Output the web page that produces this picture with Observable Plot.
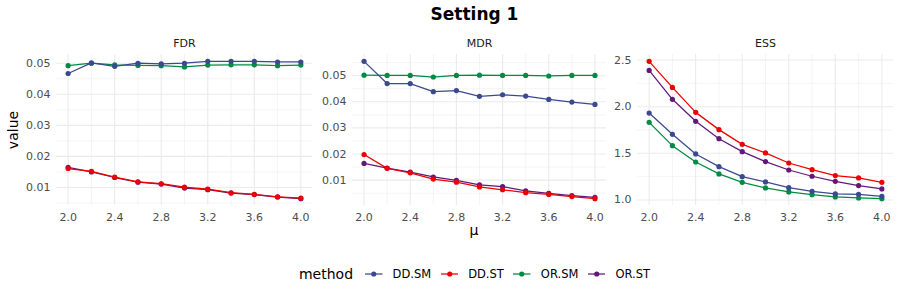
<!DOCTYPE html>
<html>
<head>
<meta charset="utf-8">
<script src="https://cdn.jsdelivr.net/npm/d3@7"></script>
<script src="https://cdn.jsdelivr.net/npm/@observablehq/plot@0.6"></script>
<style>
  html, body { margin: 0; padding: 0; background: #ffffff; }
  #chart { position: relative; width: 900px; height: 300px; font-family: "DejaVu Sans", sans-serif; overflow: hidden; }
  .abs { position: absolute; }
  #title { left: 56px; width: 837px; top: 4px; height: 20px; line-height: 20px; text-align: center; font-weight: bold; font-size: 17px; color: #000; }
  #ylab { left: 12.5px; top: 129.5px; transform: translate(-50%, -50%) rotate(-90deg); font-size: 14px; color: #000; white-space: nowrap; }
  #xlab { left: 474px; top: 230px; transform: translate(-50%, -50%); font-size: 14px; color: #000; }
  #legend { left: 56px; width: 837px; top: 264px; height: 20px; display: flex; justify-content: center; align-items: center; }
  #legend .ttl { font-size: 14px; color: #000; margin-right: 12px; }
  #legend .item { display: flex; align-items: center; margin-right: 9.5px; }
  #legend .item:last-child { margin-right: 0; }
  #legend .lab { font-size: 11.5px; color: #000; margin-left: 10px; }
</style>
</head>
<body>
<div id="chart">
  <div id="title" class="abs">Setting 1</div>
  <div id="ylab" class="abs">value</div>
  <div id="xlab" class="abs">μ</div>
  <div id="legend" class="abs"></div>
</div>
<script>
// ---- data ----
const mu = [2.0, 2.2, 2.4, 2.6, 2.8, 3.0, 3.2, 3.4, 3.6, 3.8, 4.0];
const methods = ["DD.SM", "DD.ST", "OR.SM", "OR.ST"];
const methodColors = ["#3B4992", "#EE0000", "#008B45", "#631879"];
const drawOrder = ["OR.SM", "OR.ST", "DD.SM", "DD.ST"];
const panels = ["FDR", "MDR", "ESS"];

const fdrDDSM = [0.0467, 0.0501, 0.0490, 0.0500, 0.0498, 0.0500, 0.0506, 0.0506, 0.0506, 0.0504, 0.0504];
const fdrDDST = [0.0161, 0.0152, 0.0133, 0.0118, 0.0112, 0.0101, 0.0095, 0.0083, 0.0078, 0.0070, 0.0066];
const fdrORSM = [0.0492, 0.0500, 0.0495, 0.0493, 0.0492, 0.0488, 0.0494, 0.0495, 0.0495, 0.0492, 0.0494];
const fdrORST = [0.0165, 0.0150, 0.0132, 0.0117, 0.0111, 0.0098, 0.0093, 0.0082, 0.0077, 0.0069, 0.0064];

const mdrDDSM = [0.0555, 0.0470, 0.0470, 0.0439, 0.0443, 0.0421, 0.0427, 0.0422, 0.0409, 0.0399, 0.0390];
const mdrDDST = [0.0198, 0.0145, 0.0128, 0.0104, 0.0092, 0.0074, 0.0063, 0.0052, 0.0045, 0.0037, 0.0029];
const mdrORSM = [0.0502, 0.0501, 0.0501, 0.0495, 0.0501, 0.0502, 0.0501, 0.0501, 0.0499, 0.0501, 0.0501];
const mdrORST = [0.0164, 0.0146, 0.0131, 0.0112, 0.0099, 0.0082, 0.0075, 0.0059, 0.0049, 0.0041, 0.0034];

const essDDSM = [1.932, 1.704, 1.493, 1.357, 1.250, 1.193, 1.132, 1.093, 1.064, 1.061, 1.039];
const essDDST = [2.486, 2.207, 1.939, 1.754, 1.596, 1.504, 1.396, 1.325, 1.261, 1.236, 1.189];
const essORSM = [1.832, 1.582, 1.407, 1.279, 1.189, 1.129, 1.086, 1.057, 1.032, 1.021, 1.014];
const essORST = [2.389, 2.079, 1.843, 1.657, 1.518, 1.411, 1.321, 1.254, 1.200, 1.154, 1.118];

const xMajor = [2.0, 2.4, 2.8, 3.2, 3.6, 4.0];
const xMinor = [2.2, 2.6, 3.0, 3.4, 3.8];
const fdrMajor = [0.01, 0.02, 0.03, 0.04, 0.05];
const fdrMinor = [0.005, 0.015, 0.025, 0.035, 0.045, 0.055];
const mdrMajor = [0.01, 0.02, 0.03, 0.04, 0.05];
const mdrMinor = [0.005, 0.015, 0.025, 0.035, 0.045, 0.055];
const essMajor = [1.0, 1.5, 2.0, 2.5];
const essMinor = [1.25, 1.75, 2.25];

// ---- build tables ----
function table(series) {
  const rows = [];
  for (const m of drawOrder) series[m].forEach((v, i) => rows.push({mu: mu[i], value: v, method: m}));
  return rows;
}
const panelSpecs = [
  {name: "FDR", data: table({"DD.SM": fdrDDSM, "DD.ST": fdrDDST, "OR.SM": fdrORSM, "OR.ST": fdrORST}),
   major: fdrMajor, minor: fdrMinor, fmt: d3.format(".2f"), left: 0, width: 313, ml: 56, mr: 1},
  {name: "MDR", data: table({"DD.SM": mdrDDSM, "DD.ST": mdrDDST, "OR.SM": mdrORSM, "OR.ST": mdrORST}),
   major: mdrMajor, minor: mdrMinor, fmt: d3.format(".2f"), left: 300, width: 306, ml: 52, mr: 0},
  {name: "ESS", data: table({"DD.SM": essDDSM, "DD.ST": essDDST, "OR.SM": essORSM, "OR.ST": essORST}),
   major: essMajor, minor: essMinor, fmt: d3.format(".1f"), left: 590, width: 303, ml: 47, mr: 0}
];

const chart = document.getElementById("chart");
const xExt = d3.extent(mu), xPad = (xExt[1] - xExt[0]) * 0.05;
const xDomain = [xExt[0] - xPad, xExt[1] + xPad];

for (const p of panelSpecs) {
  const ext = d3.extent(p.data, d => d.value);
  const pad = (ext[1] - ext[0]) * 0.05;
  const yDomain = [ext[0] - pad, ext[1] + pad];
  const inY = v => v >= yDomain[0] && v <= yDomain[1];
  const svg = Plot.plot({
    width: p.width, height: 200,
    marginTop: 24, marginBottom: 25, marginLeft: p.ml, marginRight: p.mr,
    style: {fontFamily: "DejaVu Sans, sans-serif", fontSize: "11px", color: "#4d4d4d", background: "transparent", overflow: "visible"},
    x: {domain: xDomain, ticks: xMajor, tickFormat: d3.format(".1f"), tickSize: 0, tickPadding: 8, label: null},
    y: {domain: yDomain, ticks: p.major.filter(inY), tickFormat: p.fmt, tickSize: 0, tickPadding: 6, label: null},
    color: {domain: methods, range: methodColors},
    marks: [
      Plot.ruleY(p.minor.filter(inY), {stroke: "#ebebeb", strokeWidth: 0.55}),
      Plot.ruleX(xMinor, {stroke: "#ebebeb", strokeWidth: 0.55}),
      Plot.ruleY(p.major.filter(inY), {stroke: "#ebebeb", strokeWidth: 1.1}),
      Plot.ruleX(xMajor, {stroke: "#ebebeb", strokeWidth: 1.1}),
      Plot.line(p.data, {x: "mu", y: "value", z: "method", stroke: "method", strokeWidth: 1.25}),
      Plot.dot(p.data, {x: "mu", y: "value", fill: "method", r: 2.6}),
      Plot.text([p.name], {text: d => d, frameAnchor: "top", lineAnchor: "middle", dy: -11, fill: "#1a1a1a", fontSize: 11})
    ]
  });
  svg.style.position = "absolute";
  svg.style.left = p.left + "px";
  svg.style.top = "30px";
  chart.appendChild(svg);
}

// ---- legend ----
const legend = document.getElementById("legend");
legend.innerHTML = '<span class="ttl">method</span>' + methods.map((m, i) =>
  `<span class="item"><svg width="17.5" height="10"><line x1="0" x2="17.5" y1="5" y2="5" stroke="${methodColors[i]}" stroke-width="1.25"/><circle cx="8.75" cy="5" r="2.6" fill="${methodColors[i]}"/></svg><span class="lab">${m}</span></span>`
).join("");
</script>
</body>
</html>
